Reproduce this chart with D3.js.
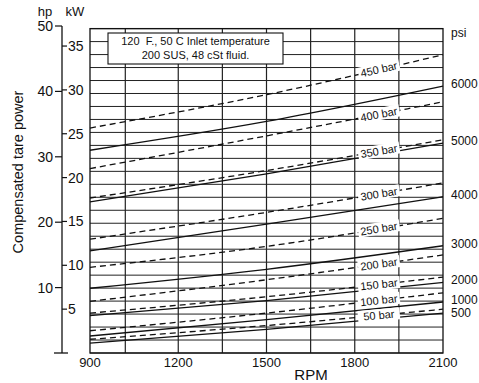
<!DOCTYPE html>
<html><head><meta charset="utf-8">
<script src="https://cdn.jsdelivr.net/npm/d3@7"></script>
<style>
body{margin:0;background:#fff;}
text{font-family:"Liberation Sans",Arial,Helvetica,sans-serif;fill:#111;}
</style>
</head><body>
<svg id="c" width="479" height="383"></svg>
<script>
// ---- data ----
const rpmPoints = [900, 1500, 2100];
const barLabels = ["450 bar","400 bar","350 bar","300 bar","250 bar","200 bar","150 bar","100 bar","50 bar"];
const barPower = [
  [34.4, 39.5, 45.6],
  [28.2, 33.2, 38.4],
  [23.7, 27.9, 32.6],
  [17.4, 21.5, 26.0],
  [13.1, 16.3, 20.6],
  [7.9, 11.2, 15.0],
  [6.1, 8.6, 11.6],
  [3.4, 6.1, 9.2],
  [2.1, 4.2, 6.7]
];
const psiLabels = ["6000","5000","4000","3000","2000","1000","500"];
const psiPower = [
  [31.0, 35.4, 40.8],
  [23.1, 27.4, 32.1],
  [15.6, 19.7, 23.9],
  [9.9, 12.8, 16.4],
  [5.7, 8.0, 10.8],
  [2.6, 5.1, 7.8],
  [1.5, 3.6, 6.1]
];
const rpmTicks = [900, 1200, 1500, 1800, 2100];
const rpmGrid = [1020, 1200, 1350, 1500, 1650, 1800, 1950];
const hpTicks = [10, 20, 30, 40, 50];
const kwTicks = [5, 10, 15, 20, 25, 30, 35];
const plotTopHp = 49.6;
const gridCount = 25;
const labelRpm = 1882;
const infoLines = ["120  F., 50 C Inlet temperature", "200 SUS, 48 cSt fluid."];

// ---- scales ----
const svg = d3.select("#c");
const x = d3.scaleLinear().domain([900, 2100]).range([90, 443]);
const y = d3.scaleLinear().domain([0, 50]).range([353, 26]);
const hGrid = d3.range(0, gridCount + 1).map(i => i * plotTopHp / gridCount);

// grid
const g = svg.append("g");
g.selectAll("line.h").data(hGrid).join("line")
  .attr("x1", x(900)).attr("x2", x(2100))
  .attr("y1", d => y(d)).attr("y2", d => y(d))
  .attr("stroke", "#222").attr("stroke-width", 1);
g.selectAll("line.v").data(rpmGrid).join("line")
  .attr("x1", d => x(d)).attr("x2", d => x(d))
  .attr("y1", y(0)).attr("y2", y(plotTopHp))
  .attr("stroke", "#222").attr("stroke-width", 1.2);
g.append("rect")
  .attr("x", x(900)).attr("y", y(plotTopHp))
  .attr("width", x(2100) - x(900)).attr("height", y(0) - y(plotTopHp))
  .attr("fill", "none").attr("stroke", "#111").attr("stroke-width", 1.3);

// curves
const line = d3.line().x((d, i) => x(rpmPoints[i])).y(d => y(d)).curve(d3.curveNatural);
svg.append("g").selectAll("path").data(psiPower).join("path")
  .attr("d", line).attr("fill", "none").attr("stroke", "#111").attr("stroke-width", 1.3);
svg.append("g").selectAll("path").data(barPower).join("path")
  .attr("d", line).attr("fill", "none").attr("stroke", "#111").attr("stroke-width", 1.3)
  .attr("stroke-dasharray", "6,4");

// bar labels
const lab = svg.append("g").selectAll("g").data(barPower).join("g")
  .attr("transform", d => {
    const interp = d3.scaleLinear().domain(rpmPoints).range(d);
    const px = x(labelRpm), py = y(interp(labelRpm));
    const ang = Math.atan2(y(d[2]) - y(d[1]), x(2100) - x(1500)) * 180 / Math.PI;
    return `translate(${px},${py}) rotate(${ang})`;
  });
lab.append("rect").attr("x", -21).attr("y", -6).attr("width", 42).attr("height", 12).attr("fill", "#fff");
lab.append("text").attr("text-anchor", "middle").attr("dominant-baseline", "central")
  .attr("font-size", 11).text((d, i) => barLabels[i]);

// psi labels (placed at line ends, pushed apart to avoid overlap)
const psiY = [];
psiPower.forEach((d, i) => {
  let py = y(d[2]) - 2;
  if (i > 0 && py - psiY[i - 1] < 13.5) py = psiY[i - 1] + 13.5;
  psiY.push(py);
});
svg.append("g").selectAll("text").data(psiPower).join("text")
  .attr("x", 451).attr("y", (d, i) => psiY[i])
  .attr("dominant-baseline", "central").attr("font-size", 12)
  .text((d, i) => psiLabels[i]);
svg.append("text").attr("x", 451).attr("y", 37).attr("font-size", 12).text("psi");

// info box
svg.append("rect").attr("x", 108).attr("y", 33).attr("width", 175).attr("height", 31)
  .attr("fill", "#fff").attr("stroke", "#111").attr("stroke-width", 1.1);
svg.append("g").selectAll("text").data(infoLines).join("text")
  .attr("x", 195.5).attr("y", (d, i) => 45 + i * 13.5)
  .attr("text-anchor", "middle").attr("font-size", 11).style("white-space", "pre")
  .text(d => d);

// left axis
const ax = svg.append("g");
ax.append("line").attr("x1", 62).attr("x2", 62).attr("y1", y(50)).attr("y2", y(0))
  .attr("stroke", "#111").attr("stroke-width", 1.3);
ax.append("line").attr("x1", 54).attr("x2", 68).attr("y1", y(0)).attr("y2", y(0))
  .attr("stroke", "#111").attr("stroke-width", 1.3);
ax.selectAll("line.hp").data(hpTicks).join("line")
  .attr("x1", 55).attr("x2", 62).attr("y1", d => y(d)).attr("y2", d => y(d))
  .attr("stroke", "#111").attr("stroke-width", 1.2);
ax.selectAll("text.hp").data(hpTicks).join("text")
  .attr("x", 53).attr("y", d => y(d)).attr("text-anchor", "end")
  .attr("dominant-baseline", "central").attr("font-size", 14).text(d => d);
ax.selectAll("line.kw").data(kwTicks).join("line")
  .attr("x1", 62).attr("x2", 67).attr("y1", d => y(d / 0.7457)).attr("y2", d => y(d / 0.7457))
  .attr("stroke", "#111").attr("stroke-width", 1.2);
ax.selectAll("text.kw").data(kwTicks).join("text")
  .attr("x", 68).attr("y", d => y(d / 0.7457))
  .attr("dominant-baseline", "central").attr("font-size", 14).text(d => d);
ax.append("text").attr("x", 45).attr("y", 16).attr("text-anchor", "middle").attr("font-size", 13).text("hp");
ax.append("text").attr("x", 75).attr("y", 16).attr("text-anchor", "middle").attr("font-size", 13).text("kW");
ax.append("text").attr("transform", "translate(18,172) rotate(-90)")
  .attr("text-anchor", "middle").attr("dominant-baseline", "central").attr("font-size", 14.5)
  .text("Compensated tare power");

// bottom axis
svg.append("g").selectAll("text").data(rpmTicks).join("text")
  .attr("x", d => x(d)).attr("y", 367).attr("text-anchor", "middle").attr("font-size", 13)
  .text(d => d);
svg.append("text").attr("x", 311).attr("y", 380).attr("text-anchor", "middle").attr("font-size", 15).text("RPM");
</script>
</body></html>
